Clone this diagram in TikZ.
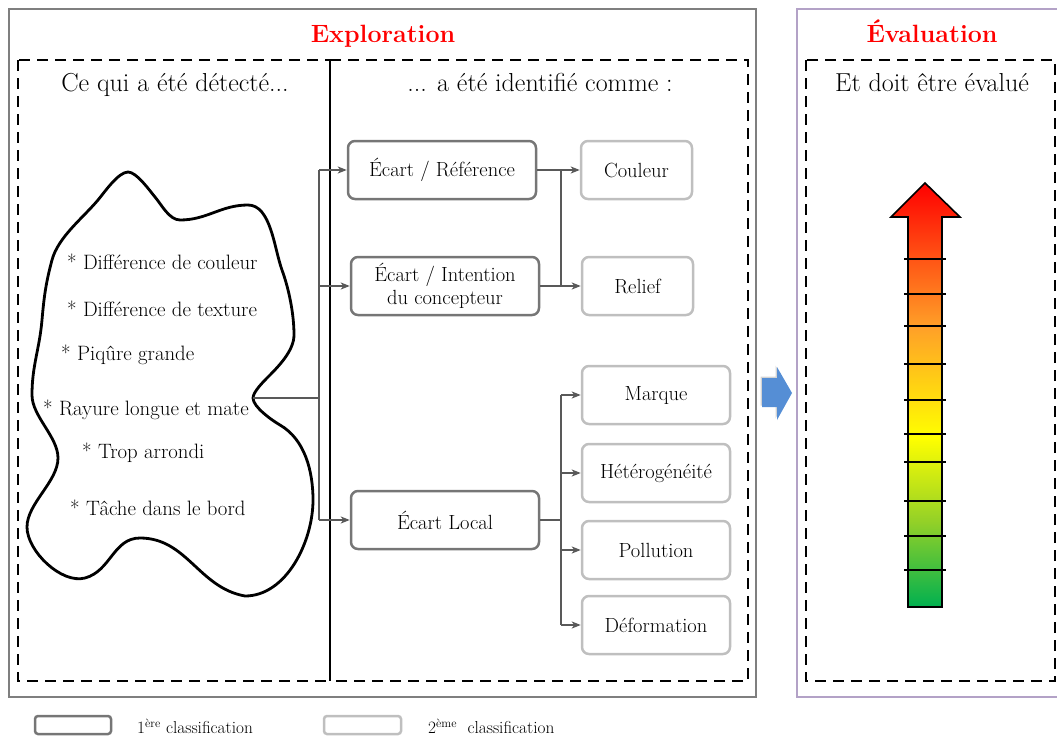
\documentclass[tikz,border=0pt]{standalone}
\usepackage{fontspec}
\usetikzlibrary{arrows.meta,shadows}
\definecolor{outergray}{RGB}{127,127,127}
\definecolor{evalpurple}{RGB}{179,162,199}
\definecolor{c1}{RGB}{118,118,118}
\definecolor{c2}{RGB}{191,191,191}
\definecolor{linec}{RGB}{89,89,89}
\definecolor{titlered}{RGB}{255,0,0}
\definecolor{blueA}{RGB}{85,142,213}
\definecolor{hgreen}{RGB}{0,176,80}
\definecolor{hlgreen}{RGB}{146,208,40}
\definecolor{hyellow}{RGB}{255,255,0}
\definecolor{horange}{RGB}{255,160,40}
\definecolor{hred}{RGB}{255,0,0}
\pgfdeclareverticalshading{heat}{100bp}{color(0bp)=(hgreen); color(25bp)=(hgreen); color(35bp)=(hlgreen); color(45bp)=(hyellow); color(58bp)=(horange); color(75bp)=(hred); color(100bp)=(hred)}
\tikzset{
  cls1/.style={draw=c1, line width=2.5pt, rounded corners=7pt, minimum width=188pt, minimum height=58pt, align=center, inner sep=2pt, font=\fontsize{20.5}{23}\selectfont},
  cls2/.style={draw=c2, line width=2.5pt, rounded corners=7pt, minimum height=58pt, align=center, inner sep=2pt, font=\fontsize{20.5}{23}\selectfont},
  conn/.style={draw=linec, line width=2pt},
  arr/.style={draw=linec, line width=2pt, -{Stealth[length=9pt,width=7pt,inset=2.5pt]}},
  dbox/.style={draw=black, line width=2.6pt, dash pattern=on 11pt off 7pt},
  ttl/.style={anchor=base, text=titlered, font=\fontsize{25}{28}\selectfont\bfseries},
  hdr/.style={anchor=base, font=\fontsize{26}{29}\selectfont},
  item/.style={anchor=west, font=\fontsize{20.8}{23}\selectfont, inner sep=0pt},
  leg/.style={anchor=west, font=\fontsize{17.3}{20}\selectfont, inner sep=0pt}
}
\begin{document}
\begin{tikzpicture}[x=1pt,y=-1pt]
\useasboundingbox (0,0) rectangle (1057,736);
\clip (0,0) rectangle (1057,736);
% outer frames
\draw[outergray, line width=2.2pt] (9,9) rectangle (756,697);
\draw[evalpurple, line width=2.2pt] (797,9) rectangle (1080,697);
% titles
\node[ttl] (texp) at (383,42) {Exploration};
\node[ttl] (teval) at (932,42) {Évaluation};
% dashed boxes
\draw[dbox] (18,60) rectangle (330,681);
\draw[dbox] (330,60) -- (748,60) -- (748,681) -- (330,681);
\draw[black, line width=2.6pt] (330,60) -- (330,681);
\draw[dbox] (806,60) rectangle (1055,681);
% headers
\node[hdr] (h1) at (175,91) {Ce qui a été détecté...};
\node[hdr] (h2) at (540,91) {... a été identifié comme :};
\node[hdr] (h3) at (932,91) {Et doit être évalué};
% blob
\draw[black, line width=2.8pt, line join=round]
 (128,172) to[out=0,in=130,looseness=0.6] (155,197)
 to[out=-50,in=180,looseness=0.8] (180,220)
 to[out=0,in=180] (248,205)
 to[out=0,in=110,looseness=0.8] (282,270)
 to[out=-70,in=90,looseness=0.8] (294,335)
 to[out=-90,in=45,looseness=0.8] (268,377)
 to[out=225,in=90,looseness=0.6] (253,398)
 to[out=-90,in=150,looseness=0.6] (280,425)
 to[out=-30,in=90,looseness=0.9] (313,500)
 to[out=-90,in=0,looseness=0.9] (245,596)
 to[out=170,in=0] (140,538)
 to[out=180,in=15] (85,578)
 to[out=195,in=-90,looseness=0.8] (27,527)
 to[out=90,in=-90,looseness=0.8] (58,458)
 to[out=90,in=-90,looseness=0.8] (32,395)
 to[out=90,in=-95] (42,320)
 to[out=85,in=-105] (52,260)
 to[out=75,in=230,looseness=0.8] (98,200)
 to[out=50,in=180,looseness=0.6] (128,172) -- cycle;
\coordinate (bt) at (253,398);
% blob items
\node[item] (i1) at (67,262) {* Différence de couleur};
\node[item] (i2) at (67,309) {* Différence de texture};
\node[item] (i3) at (61,355) {* Piqûre grande};
\node[item] (i4) at (43,410) {* Rayure longue et mate};
\node[item] (i5) at (82,453) {* Trop arrondi};
\node[item] (i6) at (70,508) {* Tâche dans le bord};
% first classification
\node[cls1] (ref) at (442,170) {Écart / Référence};
\node[cls1] (int) at (445,286) {Écart / Intention\\du concepteur};
\node[cls1] (loc) at (445,520) {Écart Local};
% second classification
\node[cls2, minimum width=111pt] (col) at (636.5,170) {Couleur};
\node[cls2, minimum width=111pt] (rel) at (637.5,286) {Relief};
\node[cls2, minimum width=148pt] (mar) at (656,395) {Marque};
\node[cls2, minimum width=148pt] (het) at (656,473) {Hétérogénéité};
\node[cls2, minimum width=148pt] (pol) at (656,550) {Pollution};
\node[cls2, minimum width=148pt] (def) at (656,625) {Déformation};
% connectors
\coordinate (tr1) at (319,0);
\coordinate (tr2) at (561,0);
\draw[conn] (bt) -- (bt -| tr1);
\draw[conn] (tr1 |- ref.west) -- (tr1 |- loc.west);
\draw[arr] (tr1 |- ref.west) -- (ref.west);
\draw[arr] (tr1 |- int.west) -- (int.west);
\draw[arr] (tr1 |- loc.west) -- (loc.west);
\draw[conn] (ref.east) -- (ref.east -| tr2);
\draw[conn] (int.east) -- (int.east -| tr2);
\draw[conn] (tr2 |- col.west) -- (tr2 |- rel.west);
\draw[arr] (tr2 |- col.west) -- (col.west);
\draw[arr] (tr2 |- rel.west) -- (rel.west);
\draw[conn] (loc.east) -- (loc.east -| tr2);
\draw[conn] (tr2 |- mar.west) -- (tr2 |- def.west);
\draw[arr] (tr2 |- mar.west) -- (mar.west);
\draw[arr] (tr2 |- het.west) -- (het.west);
\draw[arr] (tr2 |- pol.west) -- (pol.west);
\draw[arr] (tr2 |- def.west) -- (def.west);
% blue arrow
\fill[blueA, drop shadow={shadow xshift=-1.5pt, shadow yshift=1.5pt, opacity=0.35}] (762,378) -- (777,378) -- (777,367) -- (792,393) -- (777,420) -- (777,407) -- (762,407) -- cycle;
% heat arrow
\shade[shading=heat] (908,607) -- (908,217) -- (891,217) -- (925,183) -- (960,217) -- (942,217) -- (942,607) -- cycle;
\draw[black, line width=1.6pt, line join=miter] (908,607) -- (908,217) -- (891,217) -- (925,183) -- (960,217) -- (942,217) -- (942,607) -- cycle;
\foreach \yy in {259,294,326,364,400,434,462,501,536,570}
  \draw[black, line width=1.4pt] (904,\yy) -- (946,\yy);
% legend
\draw[c1, line width=2.5pt, rounded corners=3pt] (35,716) rectangle (111,734);
\node[leg] (l1) at (137,726) {1\textsuperscript{ère} classification};
\draw[c2, line width=2.5pt, rounded corners=3pt] (324,716) rectangle (401,734);
\node[leg] (l2) at (428,726) {2\textsuperscript{ème}\ \ classification};
\end{tikzpicture}
\end{document}
